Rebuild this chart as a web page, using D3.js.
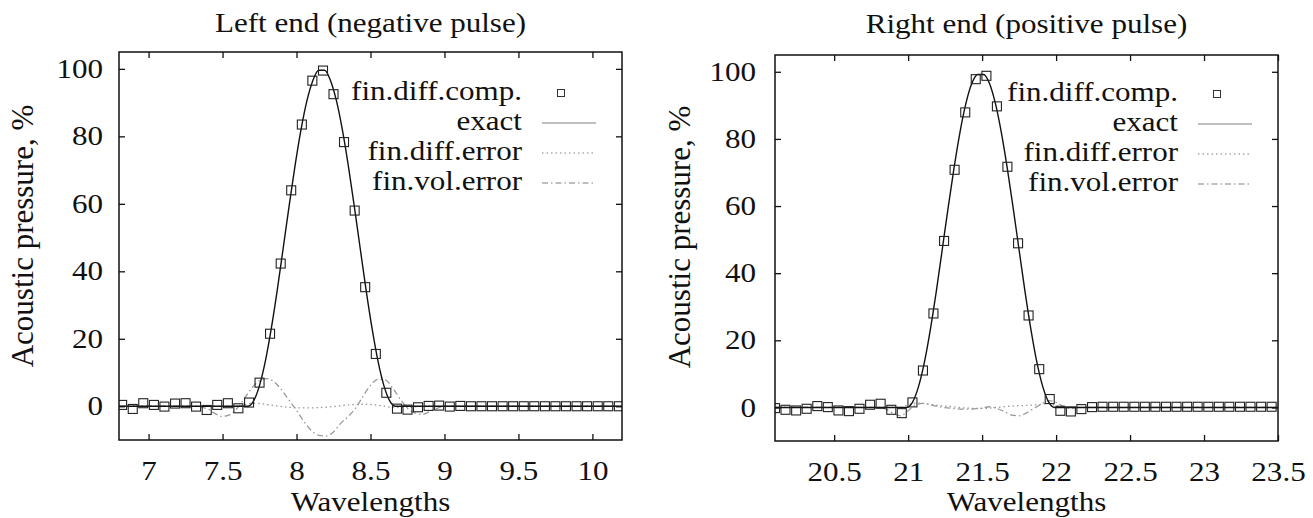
<!DOCTYPE html>
<html><head><meta charset="utf-8">
<script src="https://cdn.jsdelivr.net/npm/d3@7"></script>
<style>
html,body{margin:0;padding:0;background:#fff;}
svg{display:block;}
text{font-family:"Liberation Serif","DejaVu Serif",serif;fill:#111;}
</style></head>
<body>
<svg id="chart" width="1313" height="518"></svg>
<script>
// ---------- data ----------
const legendLabels = ["fin.diff.comp.", "exact", "fin.diff.error", "fin.vol.error"];
const titles = ["Left end (negative pulse)", "Right end (positive pulse)"];
const xAxisLabel = "Wavelengths";
const yAxisLabel = "Acoustic pressure, %";

const leftXTicks = [7, 7.5, 8, 8.5, 9, 9.5, 10];
const rightXTicks = [20.5, 21, 21.5, 22, 22.5, 23, 23.5];
const yTicks = [0, 20, 40, 60, 80, 100];
const leftXDomain = [6.8, 10.2];
const rightXDomain = [20.1, 23.5];
const yDomain = [-10, 105];

// left: finite-difference computed points
const leftCompX = [6.821, 6.893, 6.964, 7.036, 7.107, 7.179, 7.250, 7.321, 7.393, 7.464, 7.536, 7.607, 7.679,
  7.750, 7.821, 7.893, 7.964, 8.036, 8.107, 8.179, 8.250, 8.321, 8.393, 8.464, 8.536, 8.607, 8.679,
  8.750, 8.821, 8.893, 8.964, 9.036, 9.107, 9.179, 9.250, 9.321, 9.393, 9.464, 9.536, 9.607, 9.679,
  9.750, 9.821, 9.893, 9.964, 10.036, 10.107, 10.179];
const leftCompY = [0.4, -0.8, 0.9, 0.4, -0.1, 0.8, 0.9, -0.1, -1.1, 0.4, 0.9, -0.6, 1.1,
  7.0, 21.5, 42.3, 64.0, 83.5, 96.5, 99.5, 92.5, 78.3, 58.0, 35.3, 15.5, 4.0, -0.7,
  -1.0, -0.3, 0.1, 0.2, -0.1, 0.1, 0.0, 0.0, 0.0, 0.0, 0.0, 0.0, 0.0, 0.0,
  0.0, 0.0, 0.0, 0.0, 0.0, 0.0, 0.0];

// left: exact solution
const leftExactX = [6.8, 7.67, 7.71, 7.75, 7.79, 7.83, 7.87, 7.91, 7.95, 7.99, 8.03, 8.07, 8.11, 8.15,
  8.19, 8.23, 8.27, 8.31, 8.35, 8.39, 8.43, 8.47, 8.51, 8.55, 8.59, 8.63, 8.67, 10.2];
const leftExactY = [0, 0, 1.6, 6.2, 13.5, 23.2, 34.5, 46.9, 59.4, 71.3, 81.9, 90.5, 96.5, 99.6,
  99.6, 96.5, 90.5, 81.9, 71.3, 59.4, 46.9, 34.5, 23.2, 13.5, 6.2, 1.6, 0, 0];

// left: errors
const leftFdErrX = [6.8, 7.6, 7.65, 7.7, 7.75, 7.85, 7.95, 8.05, 8.15, 8.25, 8.35, 8.45, 8.55, 8.65, 8.75, 8.85, 10.2];
const leftFdErrY = [0, 0, 0.5, 0.9, 0.8, 0.2, -0.3, -0.5, -0.4, -0.1, 0.4, 0.6, 0.3, -0.3, -0.3, 0, 0];
const leftFvErrX = [6.8, 7.3, 7.4, 7.45, 7.5, 7.55, 7.6, 7.65, 7.7, 7.75, 7.8, 7.85, 7.9, 7.95, 8.0, 8.05,
  8.1, 8.15, 8.2, 8.25, 8.3, 8.35, 8.4, 8.45, 8.5, 8.55, 8.6, 8.65, 8.7, 8.75, 8.8, 8.85, 8.9, 8.95, 9.0, 10.2];
const leftFvErrY = [0, 0, -0.8, -2.2, -3.0, -2.5, -0.5, 2.5, 5.5, 7.6, 8.2, 7.2, 4.8, 1.8, -1.2, -4.5,
  -7.2, -8.6, -8.8, -7.6, -5.0, -3.0, -0.5, 3.0, 6.2, 8.0, 7.8, 5.4, 2.2, -0.6, -2.0, -2.4, -1.6, -0.6, 0, 0];

// right: finite-difference computed points
const rightCompX = [20.100, 20.171, 20.243, 20.314, 20.386, 20.457, 20.529, 20.600, 20.671, 20.743, 20.814, 20.886, 20.957,
  21.029, 21.100, 21.171, 21.243, 21.314, 21.386, 21.457, 21.529, 21.600, 21.671, 21.743, 21.814, 21.886, 21.957,
  22.029, 22.100, 22.171, 22.243, 22.314, 22.386, 22.457, 22.529, 22.600, 22.671, 22.743, 22.814, 22.886, 22.957,
  23.029, 23.100, 23.171, 23.243, 23.314, 23.386, 23.457];
const rightCompY = [-0.2, -0.7, -0.9, -0.4, 0.4, 0.1, -0.9, -1.1, -0.4, 0.8, 1.1, -0.7, -1.7,
  1.5, 11.0, 28.0, 49.6, 70.8, 87.9, 97.8, 98.8, 89.7, 71.7, 48.9, 27.4, 11.4, 2.5,
  -1.0, -1.2, -0.5, 0.1, 0.2, 0.2, 0.2, 0.2, 0.2, 0.2, 0.2, 0.2, 0.2, 0.2,
  0.2, 0.2, 0.2, 0.2, 0.2, 0.2, 0.2];

// right: exact solution
const rightExactX = [20.1, 20.99, 21.03, 21.07, 21.11, 21.15, 21.19, 21.23, 21.27, 21.31, 21.35, 21.39, 21.43, 21.47,
  21.51, 21.55, 21.59, 21.63, 21.67, 21.71, 21.75, 21.79, 21.83, 21.87, 21.91, 21.95, 21.99, 23.5];
const rightExactY = [0, 0, 1.6, 6.2, 13.5, 23.2, 34.5, 46.9, 59.4, 71.3, 81.9, 90.5, 96.5, 99.2,
  99.2, 96.5, 90.5, 81.9, 71.3, 59.4, 46.9, 34.5, 23.2, 13.5, 6.2, 1.6, 0, 0];

// right: errors
const rightFdErrX = [20.1, 20.95, 21.0, 21.05, 21.1, 21.2, 21.3, 21.4, 21.5, 21.6, 21.7, 21.8, 21.9, 21.95, 22.0, 22.05, 23.5];
const rightFdErrY = [0, 0, 0.8, 1.3, 1.2, 0.6, 0.2, -0.2, -0.3, 0, 0.4, 0.6, 0.9, 1.2, 0.5, 0, 0];
const rightFvErrX = [20.1, 20.8, 20.85, 20.9, 20.95, 21.0, 21.05, 21.1, 21.15, 21.2, 21.3, 21.4, 21.5, 21.55, 21.6,
  21.65, 21.7, 21.75, 21.8, 21.85, 21.9, 21.95, 22.0, 22.05, 22.1, 22.15, 23.5];
const rightFvErrY = [0, 0, -0.5, -1.8, -2.5, -1.0, 0.8, 1.2, 0.8, 0.3, -0.3, -0.5, -0.2, 0.2, -0.3,
  -1.2, -2.3, -2.5, -1.6, -0.3, 1.0, 2.0, 1.5, 0.3, -0.3, 0, 0];

// ---------- drawing ----------
const svg = d3.select("#chart");
const FS = 27;      // font size (glyph height)
const SX = 1.15;    // horizontal stretch of the scanned lettering
const FS_Y = 31;    // rotated y label
const zip = (xs, ys) => xs.map((x, i) => [x, ys[i]]);

function htext(g, x, y, str, anchor) {
  return g.append("text").attr("transform", `translate(${x},${y}) scale(${SX},1)`)
    .attr("text-anchor", anchor).attr("font-size", FS).text(str);
}

function drawPanel(p) {
  const x = d3.scaleLinear().domain(p.xDomain).range([p.left, p.right]);
  const y = d3.scaleLinear().domain(yDomain).range([p.bottom, p.top]);
  const g = svg.append("g");

  const styleAxis = sel => {
    sel.select(".domain").remove();
    sel.selectAll(".tick line").attr("stroke", "#111").attr("stroke-width", 1.3);
    sel.selectAll(".tick text").attr("font-size", FS).attr("font-family", "Liberation Serif")
      .attr("fill", "#111").attr("transform", `scale(${SX},1)`);
  };
  g.append("g").attr("transform", `translate(0,${p.bottom})`)
    .call(d3.axisBottom(x).tickValues(p.xTicks).tickFormat(d3.format("")).tickSizeInner(-6).tickSizeOuter(0).tickPadding(21))
    .call(styleAxis);
  g.append("g").attr("transform", `translate(0,${p.top})`)
    .call(d3.axisTop(x).tickValues(p.xTicks).tickFormat("").tickSizeInner(-6).tickSizeOuter(0))
    .call(styleAxis);
  g.append("g").attr("transform", `translate(${p.left},0)`)
    .call(d3.axisLeft(y).tickValues(yTicks).tickFormat(d3.format("")).tickSizeInner(-6).tickSizeOuter(0).tickPadding(p.yPad / SX))
    .call(styleAxis);
  g.append("g").attr("transform", `translate(${p.right},0)`)
    .call(d3.axisRight(y).tickValues(yTicks).tickFormat("").tickSizeInner(-6).tickSizeOuter(0))
    .call(styleAxis);

  const line = d3.line().x(d => x(d[0])).y(d => y(d[1])).curve(d3.curveMonotoneX);
  const clipId = "clip" + p.id;
  svg.append("clipPath").attr("id", clipId).append("rect")
    .attr("x", p.left).attr("y", p.top).attr("width", p.right - p.left).attr("height", p.bottom - p.top);
  const plot = g.append("g").attr("clip-path", `url(#${clipId})`);

  plot.append("path").datum(zip(p.fdErrX, p.fdErrY)).attr("d", line)
    .attr("fill", "none").attr("stroke", "#999").attr("stroke-width", 1.3).attr("stroke-dasharray", "1.5,3");
  plot.append("path").datum(zip(p.fvErrX, p.fvErrY)).attr("d", line)
    .attr("fill", "none").attr("stroke", "#999").attr("stroke-width", 1.3).attr("stroke-dasharray", "6,3,1.5,3");
  plot.append("path").datum(zip(p.exactX, p.exactY)).attr("d", line)
    .attr("fill", "none").attr("stroke", "#111").attr("stroke-width", 1.4);
  const s = 9;
  plot.selectAll("rect.pt").data(zip(p.compX, p.compY)).join("rect").attr("class", "pt")
    .attr("x", d => x(d[0]) - s / 2).attr("y", d => y(d[1]) - s / 2)
    .attr("width", s).attr("height", s)
    .attr("fill", "none").attr("stroke", "#222").attr("stroke-width", 1.1);

  g.append("rect").attr("x", p.left).attr("y", p.top)
    .attr("width", p.right - p.left).attr("height", p.bottom - p.top)
    .attr("fill", "none").attr("stroke", "#111").attr("stroke-width", 1.5);

  const cx = (p.left + p.right) / 2;
  htext(g, cx, p.titleY, p.title, "middle");
  htext(g, cx, 511, xAxisLabel, "middle");
  g.append("text").attr("transform", `translate(${p.yLabelX},${p.yLabelY}) rotate(-90)`)
    .attr("text-anchor", "middle").attr("font-size", FS_Y).text(yAxisLabel);

  const textEnd = p.right - 100, sampleA = p.right - 80, sampleB = p.right - 26, sq = p.right - 61;
  legendLabels.forEach((lab, i) => {
    const base = p.legendTop + i * 30;
    const cy = base - 7;
    htext(g, textEnd, base, lab, "end");
    if (i === 0) {
      g.append("rect").attr("x", sq - 3.5).attr("y", cy - 3.5).attr("width", 7).attr("height", 7)
        .attr("fill", "none").attr("stroke", "#333").attr("stroke-width", 1);
    } else {
      const dash = i === 1 ? null : (i === 2 ? "1.5,3" : "6,3,1.5,3");
      const l = g.append("line").attr("x1", sampleA).attr("x2", sampleB).attr("y1", cy).attr("y2", cy)
        .attr("stroke", "#aaa").attr("stroke-width", 1.3);
      if (dash) l.attr("stroke-dasharray", dash);
    }
  });
}

drawPanel({
  id: "L", left: 119, right: 622, top: 52, bottom: 440,
  xDomain: leftXDomain, xTicks: leftXTicks, yPad: 16,
  title: titles[0], titleY: 32, yLabelX: 33, yLabelY: 236, legendTop: 100,
  compX: leftCompX, compY: leftCompY, exactX: leftExactX, exactY: leftExactY,
  fdErrX: leftFdErrX, fdErrY: leftFdErrY, fvErrX: leftFvErrX, fvErrY: leftFvErrY
});
drawPanel({
  id: "R", left: 775, right: 1278, top: 55, bottom: 441,
  xDomain: rightXDomain, xTicks: rightXTicks, yPad: 19,
  title: titles[1], titleY: 33, yLabelX: 690, yLabelY: 237, legendTop: 101,
  compX: rightCompX, compY: rightCompY, exactX: rightExactX, exactY: rightExactY,
  fdErrX: rightFdErrX, fdErrY: rightFdErrY, fvErrX: rightFvErrX, fvErrY: rightFvErrY
});
</script>
</body></html>
